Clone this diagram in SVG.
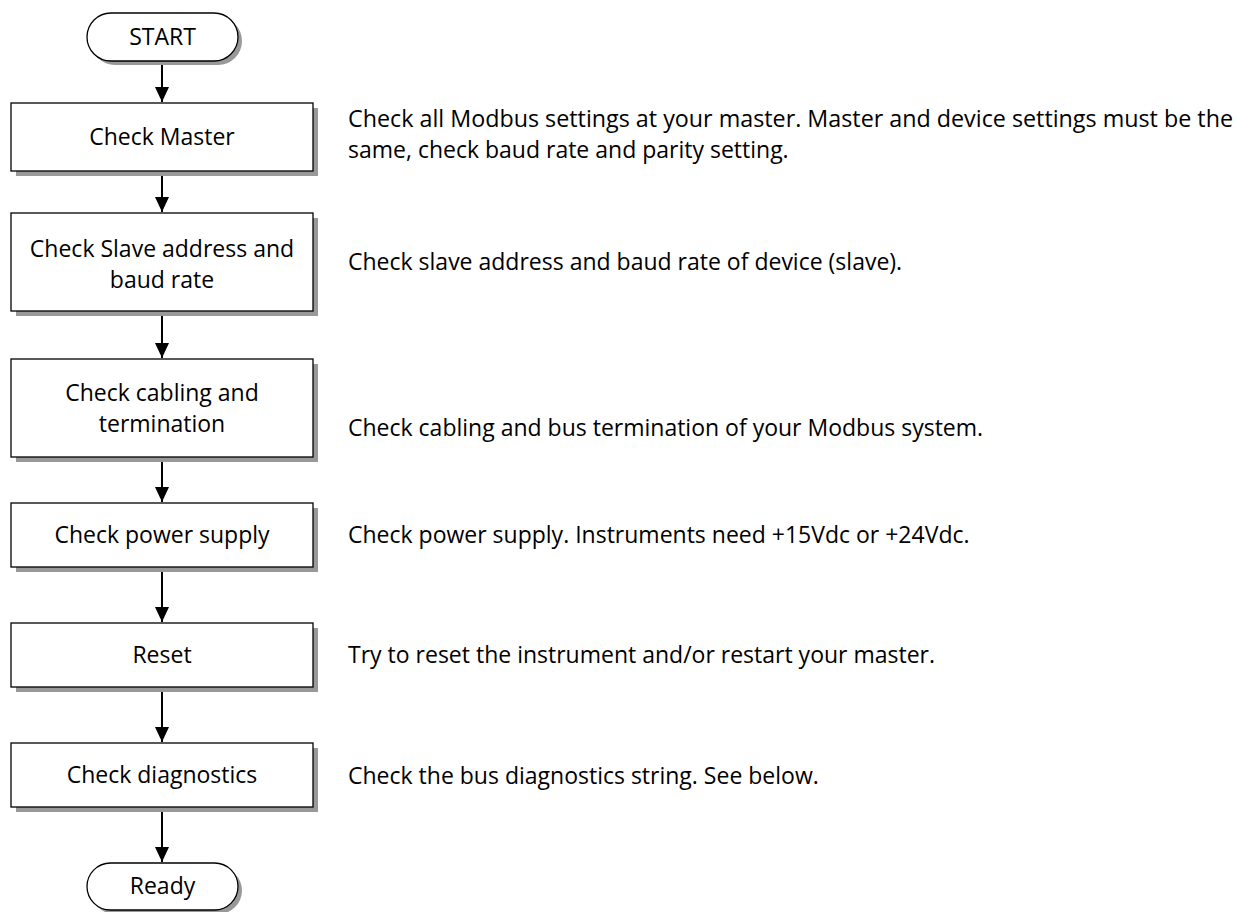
<svg xmlns="http://www.w3.org/2000/svg" width="1236" height="912" viewBox="0 0 1236 912">
<defs>
<style>
.shadow{fill:#999999;stroke:none}
.node{fill:#ffffff;stroke:#000000;stroke-width:1.3}
.t{font-family:"Open Sans","Noto Sans","Liberation Sans",sans-serif;font-size:23px;fill:#000000}
.c{text-anchor:middle}
.conn{stroke:#000000;stroke-width:2;fill:none}
</style>
<marker id="arr" markerWidth="8" markerHeight="7" refX="7.5" refY="3.5" orient="auto" markerUnits="strokeWidth">
<path d="M0,0 L7.5,3.5 L0,7 Z" fill="#000000"/>
</marker>
</defs>
<rect width="1236" height="912" fill="#ffffff"/>

<g id="connectors">
<line class="conn" x1="162" y1="61" x2="162" y2="102" marker-end="url(#arr)"/>
<line class="conn" x1="162" y1="171" x2="162" y2="212" marker-end="url(#arr)"/>
<line class="conn" x1="162" y1="311" x2="162" y2="358" marker-end="url(#arr)"/>
<line class="conn" x1="162" y1="457" x2="162" y2="502" marker-end="url(#arr)"/>
<line class="conn" x1="162" y1="567" x2="162" y2="622" marker-end="url(#arr)"/>
<line class="conn" x1="162" y1="687" x2="162" y2="742" marker-end="url(#arr)"/>
<line class="conn" x1="162" y1="807" x2="162" y2="862" marker-end="url(#arr)"/>
</g>

<g id="start">
<rect class="shadow" x="91" y="17" width="151" height="48" rx="24"/>
<rect class="node" x="87" y="13" width="151" height="48" rx="24"/>
<text class="t c" x="162.5" y="45">START</text>
</g>

<g id="check-master">
<rect class="shadow" x="16" y="108" width="302" height="68"/>
<rect class="node" x="11" y="103" width="302" height="68"/>
<text class="t c" x="162" y="145">Check Master</text>
</g>

<g id="check-slave">
<rect class="shadow" x="16" y="218" width="302" height="98"/>
<rect class="node" x="11" y="213" width="302" height="98"/>
<text class="t c" x="162" y="257">Check Slave address and</text>
<text class="t c" x="162" y="288">baud rate</text>
</g>

<g id="check-cabling">
<rect class="shadow" x="16" y="364" width="302" height="98"/>
<rect class="node" x="11" y="359" width="302" height="98"/>
<text class="t c" x="162" y="401">Check cabling and</text>
<text class="t c" x="162" y="432">termination</text>
</g>

<g id="check-power">
<rect class="shadow" x="16" y="508" width="302" height="64"/>
<rect class="node" x="11" y="503" width="302" height="64"/>
<text class="t c" x="162" y="543">Check power supply</text>
</g>

<g id="reset">
<rect class="shadow" x="16" y="628" width="302" height="64"/>
<rect class="node" x="11" y="623" width="302" height="64"/>
<text class="t c" x="162" y="663">Reset</text>
</g>

<g id="check-diagnostics">
<rect class="shadow" x="16" y="748" width="302" height="64"/>
<rect class="node" x="11" y="743" width="302" height="64"/>
<text class="t c" x="162" y="783">Check diagnostics</text>
</g>

<g id="ready">
<rect class="shadow" x="91" y="867" width="151" height="47" rx="23.5"/>
<rect class="node" x="87" y="863" width="151" height="47" rx="23.5"/>
<text class="t c" x="162.5" y="894">Ready</text>
</g>

<g id="descriptions">
<text class="t" x="348" y="127" textLength="885" lengthAdjust="spacingAndGlyphs">Check all Modbus settings at your master. Master and device settings must be the</text>
<text class="t" x="348" y="158">same, check baud rate and parity setting.</text>
<text class="t" x="348" y="270">Check slave address and baud rate of device (slave).</text>
<text class="t" x="348" y="436">Check cabling and bus termination of your Modbus system.</text>
<text class="t" x="348" y="543">Check power supply. Instruments need +15Vdc or +24Vdc.</text>
<text class="t" x="348" y="663">Try to reset the instrument and/or restart your master.</text>
<text class="t" x="348" y="784">Check the bus diagnostics string. See below.</text>
</g>
</svg>
